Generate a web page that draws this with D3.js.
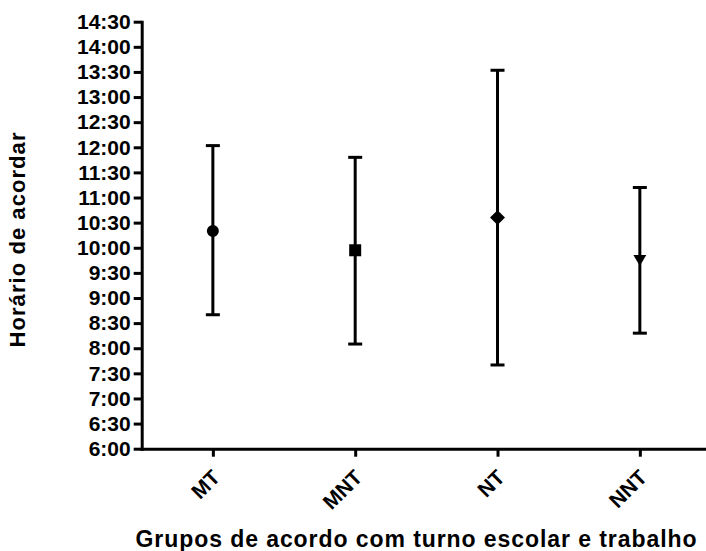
<!DOCTYPE html>
<html>
<head>
<meta charset="utf-8">
<script src="https://cdn.jsdelivr.net/npm/d3@7"></script>
<style>
  body { margin: 0; background: #fff; }
  svg { display: block; font-family: "Liberation Sans", Arial, sans-serif; font-weight: bold; }
</style>
</head>
<body>
<script>
const groups = ["MT", "MNT", "NT", "NNT"];
const means = ["10:20", "9:57", "10:36", "9:47"];
const upper = ["12:02", "11:48", "13:32", "11:12"];
const lower = ["8:40", "8:05", "7:40", "8:18"];
const symbols = ["circle", "square", "diamond", "triangleDown"];
const yTickLabels = ["6:00", "6:30", "7:00", "7:30", "8:00", "8:30", "9:00", "9:30",
  "10:00", "10:30", "11:00", "11:30", "12:00", "12:30", "13:00", "13:30", "14:00", "14:30"];

const width = 706;
const height = 551;
const plotLeft = 141.7, plotRight = 711, plotTop = 21.7, plotBottom = 448.7;

const toMin = s => {
  const [h, m] = s.split(":").map(Number);
  return h * 60 + m;
};

const data = groups.map((g, i) => ({
  group: g,
  mean: toMin(means[i]),
  hi: toMin(upper[i]),
  lo: toMin(lower[i]),
  symbol: symbols[i]
}));

const svg = d3.select("body").append("svg")
  .attr("width", width)
  .attr("height", height);

const x = d3.scalePoint().domain(groups).range([plotLeft, plotRight]).padding(0.5);
const y = d3.scaleLinear()
  .domain([toMin(yTickLabels[0]), toMin(yTickLabels[yTickLabels.length - 1])])
  .range([plotBottom, plotTop]);

// axes
const yAxis = svg.append("g")
  .attr("transform", `translate(${plotLeft},0)`)
  .call(d3.axisLeft(y)
    .tickValues(yTickLabels.map(toMin))
    .tickFormat((d, i) => yTickLabels[i])
    .tickSize(8).tickSizeOuter(0).tickPadding(3));

const xAxis = svg.append("g")
  .attr("transform", `translate(0,${plotBottom})`)
  .call(d3.axisBottom(x).tickSize(8).tickSizeOuter(0));

[yAxis, xAxis].forEach(a => {
  a.select(".domain").attr("stroke", "#000").attr("stroke-width", 3).attr("stroke-linecap", "square");
  a.selectAll(".tick line").attr("stroke", "#000").attr("stroke-width", 3);
  a.selectAll("text").attr("fill", "#000").attr("font-size", 21).attr("font-weight", "bold");
});

xAxis.selectAll(".tick text")
  .attr("text-anchor", "end")
  .attr("dy", null)
  .attr("y", null)
  .attr("transform", "translate(8,30) rotate(-45)");

// error bars
const capW = 14;
const bars = svg.append("g").attr("stroke", "#000").attr("stroke-width", 3);
bars.selectAll("line.v").data(data).join("line")
  .attr("class", "v")
  .attr("x1", d => x(d.group)).attr("x2", d => x(d.group))
  .attr("y1", d => y(d.hi)).attr("y2", d => y(d.lo));
bars.selectAll("line.hi").data(data).join("line")
  .attr("class", "hi")
  .attr("x1", d => x(d.group) - capW / 2).attr("x2", d => x(d.group) + capW / 2)
  .attr("y1", d => y(d.hi)).attr("y2", d => y(d.hi));
bars.selectAll("line.lo").data(data).join("line")
  .attr("class", "lo")
  .attr("x1", d => x(d.group) - capW / 2).attr("x2", d => x(d.group) + capW / 2)
  .attr("y1", d => y(d.lo)).attr("y2", d => y(d.lo));

// markers
const symbolPath = {
  circle: d3.symbol(d3.symbolCircle, 113)(),
  square: d3.symbol(d3.symbolSquare, 144)(),
  diamond: d3.symbol(d3.symbolSquare, 112)(),
  triangleDown: d3.symbol(d3.symbolTriangle, 72)()
};
const symbolRot = { circle: 0, square: 0, diamond: 45, triangleDown: 180 };

svg.append("g").selectAll("path").data(data).join("path")
  .attr("d", d => symbolPath[d.symbol])
  .attr("transform", d => `translate(${x(d.group)},${y(d.mean)}) rotate(${symbolRot[d.symbol]})`)
  .attr("fill", "#000");

// titles
svg.append("text")
  .attr("transform", "translate(25,240) rotate(-90)")
  .attr("text-anchor", "middle")
  .attr("font-size", 22)
  .attr("textLength", 215)
  .attr("lengthAdjust", "spacing")
  .text("Horário de acordar");

svg.append("text")
  .attr("x", 416)
  .attr("y", 547)
  .attr("text-anchor", "middle")
  .attr("font-size", 23)
  .attr("textLength", 561)
  .attr("lengthAdjust", "spacing")
  .text("Grupos de acordo com turno escolar e trabalho");
</script>
</body>
</html>
